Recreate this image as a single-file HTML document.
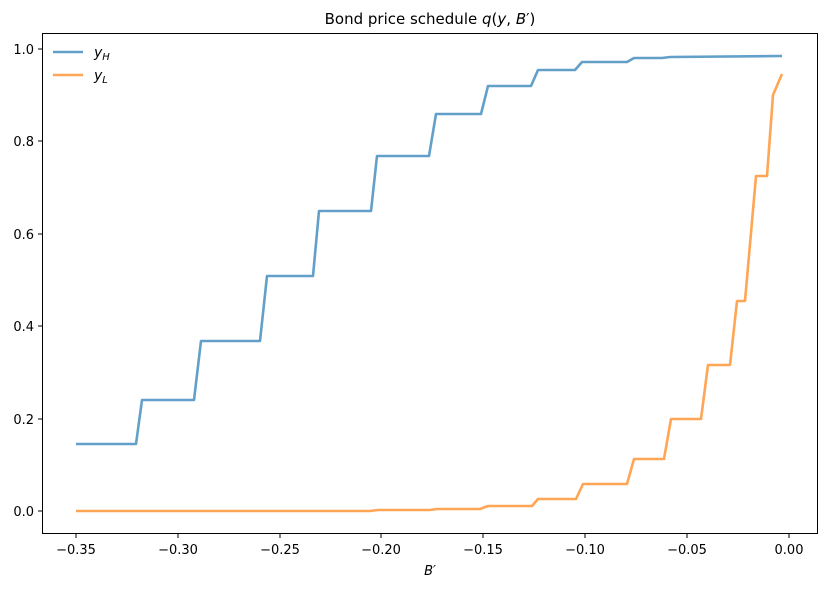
<!DOCTYPE html>
<html><head><meta charset="utf-8"><style>body{margin:0;background:#fff}svg{display:block}text{font-family:"DejaVu Sans","Liberation Sans",sans-serif;font-size:13px;fill:#000}</style></head><body>
<svg width="826" height="589" viewBox="0 0 826 589">
<text x="430" y="24" text-anchor="middle" style="font-size:15px">Bond price schedule <tspan font-style="italic">q</tspan>(<tspan font-style="italic">y</tspan>, <tspan font-style="italic">B</tspan>′)</text>
<polyline fill="none" stroke="#1f77b4" stroke-opacity="0.7" stroke-width="2.6" stroke-linejoin="round" points="76,444 136,444 142,400 194,400 201,341 260,341 267,276 313,276 319,211 371,211 377,156 429,156 436,114 481,114 488,86 531,86 538,70 575,70 582,62 627,62 634,58 662,58 670,57 782,56"/>
<polyline fill="none" stroke="#ff7f0e" stroke-opacity="0.7" stroke-width="2.6" stroke-linejoin="round" points="76,511 370,511 378,510 430,510 437,509 480,509 488,506 532,506 538,499 576,499 583,484 627,484 634,459 664,459 671,419 701,419 708,365 730,365 737,301 745,301 756,176 767,176 773,95 782,74"/>
<rect x="42.5" y="33.5" width="775" height="500" fill="none" stroke="#000" stroke-width="1"/>
<g stroke="#000">
<line x1="76" y1="534" x2="76" y2="538"/><line x1="178" y1="534" x2="178" y2="538"/><line x1="280" y1="534" x2="280" y2="538"/><line x1="381" y1="534" x2="381" y2="538"/><line x1="483" y1="534" x2="483" y2="538"/><line x1="585" y1="534" x2="585" y2="538"/><line x1="687" y1="534" x2="687" y2="538"/><line x1="789" y1="534" x2="789" y2="538"/>
<line x1="38" y1="511" x2="42" y2="511"/><line x1="38" y1="419" x2="42" y2="419"/><line x1="38" y1="326" x2="42" y2="326"/><line x1="38" y1="234" x2="42" y2="234"/><line x1="38" y1="141" x2="42" y2="141"/><line x1="38" y1="49" x2="42" y2="49"/>
</g>
<g text-anchor="middle">
<text x="76" y="554">−0.35</text><text x="178" y="554">−0.30</text><text x="280" y="554">−0.25</text><text x="381" y="554">−0.20</text><text x="483" y="554">−0.15</text><text x="585" y="554">−0.10</text><text x="687" y="554">−0.05</text><text x="789" y="554">0.00</text>
<text x="430" y="575" font-style="italic">B′</text>
</g>
<g text-anchor="end">
<text x="34" y="516">0.0</text><text x="34" y="424">0.2</text><text x="34" y="331">0.4</text><text x="34" y="239">0.6</text><text x="34" y="146">0.8</text><text x="34" y="54">1.0</text>
</g>
<line x1="53" y1="52" x2="83" y2="52" stroke="#1f77b4" stroke-opacity="0.7" stroke-width="2.6"/>
<line x1="53" y1="75" x2="83" y2="75" stroke="#ff7f0e" stroke-opacity="0.7" stroke-width="2.6"/>
<text x="94" y="57" font-style="italic" style="font-size:14px">y<tspan style="font-size:10px" dy="3">H</tspan></text>
<text x="94" y="80" font-style="italic" style="font-size:14px">y<tspan style="font-size:10px" dy="3">L</tspan></text>
</svg>
</body></html>
